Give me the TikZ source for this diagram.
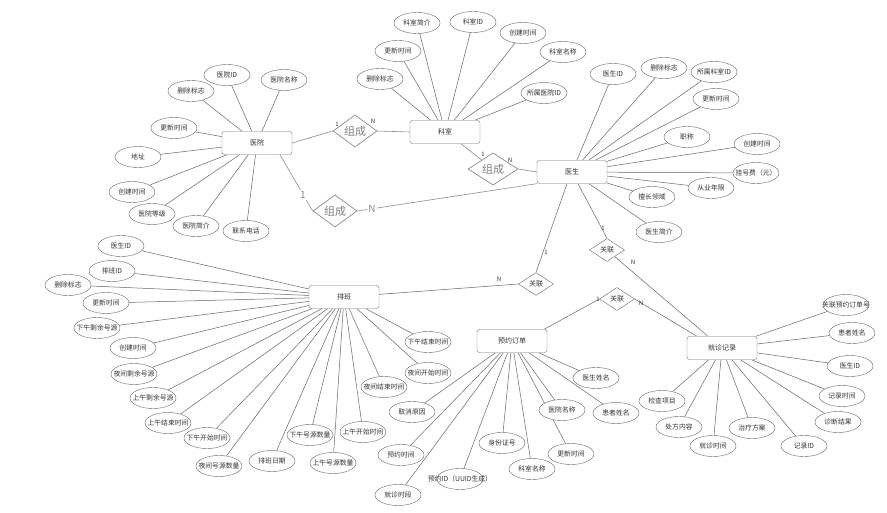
\documentclass[tikz,border=0pt]{standalone}
\usepackage{fontspec}
\setmainfont{Noto Sans CJK SC}
\usetikzlibrary{shapes.geometric}
\pgfdeclarelayer{bg}
\pgfsetlayers{bg,main}
\tikzset{
 ent/.style={draw=black!55, rounded corners=2.5pt, minimum width=70pt, minimum height=23pt, inner sep=0pt, font=\fontsize{7}{8}\selectfont, text=black!80, fill=white},
 attr/.style={ellipse, draw=black!60, fill=white, minimum width=46pt, minimum height=21pt, inner sep=0pt},
 every label/.style={font=\fontsize{6.8}{8}\selectfont, text=black!80, inner sep=0pt},
 zc/.style={diamond, draw=black!45, line width=0.7pt, fill=white, minimum width=44pt, minimum height=28pt, inner sep=0pt, font=\fontsize{11}{12}\selectfont, text=black!50},
 gl/.style={diamond, draw=black!60, fill=white, minimum width=35pt, minimum height=23pt, inner sep=0pt, font=\fontsize{7}{8}\selectfont, text=black!80},
 ln/.style={draw=black!60, line width=0.5pt},
 zl/.style={draw=black!45, line width=0.6pt},
 card/.style={font=\fontsize{6}{7}\selectfont, text=black!80, inner sep=0.5pt},
 bigcard/.style={font=\fontsize{10}{11}\selectfont, text=black!45, fill=white, inner sep=1pt},
}
\newcommand\myattr[3]{\node[attr,label={center:#3}] (#1) at (#2) {};}
\begin{document}
\begin{tikzpicture}[x=1pt,y=-1pt]
\useasboundingbox (0,0) rectangle (887,513);
% entities
\node[ent] (yy) at (257,143) {医院};
\node[ent] (ks) at (445,132) {科室};
\node[ent] (ys) at (572,172) {医生};
\node[ent] (pb) at (344,297) {排班};
\node[ent] (yd) at (512,341) {预约订单};
\node[ent] (jz) at (722,348) {就诊记录};
% relationships
\node[zc] (zc1) at (355,131) {组成};
\node[zc, minimum width=50pt] (zc2) at (493,169) {组成};
\node[zc] (zc3) at (335,211) {组成};
\node[gl] (gl1) at (536,284) {关联};
\node[gl] (gl2) at (607,250) {关联};
\node[gl] (gl3) at (617,299) {关联};
% hospital attributes
\myattr{h1}{227,75}{医院ID}
\myattr{h2}{284,80}{医院名称}
\myattr{h3}{191,91}{删除标志}
\myattr{h4}{174,128}{更新时间}
\myattr{h5}{138,157}{地址}
\myattr{h6}{132,192}{创建时间}
\myattr{h7}{152,214}{医院等级}
\myattr{h8}{196,226}{医院简介}
\myattr{h9}{246,231}{联系电话}
% department attributes
\myattr{k1}{417,23}{科室简介}
\myattr{k2}{473,22}{科室ID}
\myattr{k3}{523,33}{创建时间}
\myattr{k4}{563,52}{科室名称}
\myattr{k5}{398,51}{更新时间}
\myattr{k6}{380,79}{删除标志}
\myattr{k7}{544,93}{所属医院ID}
% doctor attributes
\myattr{d1}{613,74}{医生ID}
\myattr{d2}{664,68}{删除标志}
\myattr{d3}{714,72}{所属科室ID}
\myattr{d4}{716,99}{更新时间}
\myattr{d5}{687,137}{职称}
\myattr{d6}{757,144}{创建时间}
\myattr{d7}{756,173}{挂号费（元）}
\myattr{d8}{711,188}{从业年限}
\myattr{d9}{652,197}{擅长领域}
\myattr{d10}{659,232}{医生简介}
% schedule attributes
\myattr{p1}{121,246}{医生ID}
\myattr{p2}{112,271}{排班ID}
\myattr{p3}{68,285}{删除标志}
\myattr{p4}{106,303}{更新时间}
\myattr{p5}{97,328}{下午剩余号源}
\myattr{p6}{133,348}{创建时间}
\myattr{p7}{134,374}{夜间剩余号源}
\myattr{p8}{153,398}{上午剩余号源}
\myattr{p9}{168,423}{上午结束时间}
\myattr{p10}{207,438}{下午开始时间}
\myattr{p11}{219,466}{夜间号源数量}
\myattr{p12}{272,461}{排班日期}
\myattr{p13}{310,435}{下午号源数量}
\myattr{p14}{333,463}{上午号源数量}
\myattr{p15}{363,432}{上午开始时间}
\myattr{p16}{384,387}{夜间结束时间}
\myattr{p17}{428,373}{夜间开始时间}
\myattr{p18}{428,342}{下午结束时间}
% order attributes
\myattr{o1}{596,378}{医生姓名}
\myattr{o2}{562,410}{医院名称}
\myattr{o3}{616,413}{患者姓名}
\myattr{o4}{571,454}{更新时间}
\myattr{o5}{532,469}{科室名称}
\myattr{o6}{502,443}{身份证号}
\myattr{o7}{460,479}{预约ID（UUID生成）}
\myattr{o8}{401,455}{预约时间}
\myattr{o9}{398,495}{就诊时段}
\myattr{o10}{412,412}{取消原因}
% record attributes
\myattr{j1}{846,305}{关联预约订单号}
\myattr{j2}{852,333}{患者姓名}
\myattr{j3}{850,366}{医生ID}
\myattr{j4}{842,396}{记录时间}
\myattr{j5}{838,422}{诊断结果}
\myattr{j6}{804,446}{记录ID}
\myattr{j7}{752,428}{治疗方案}
\myattr{j8}{713,446}{就诊时间}
\myattr{j9}{679,427}{处方内容}
\myattr{j10}{662,401}{检查项目}
\begin{pgfonlayer}{bg}
\fill[white] (0,0) rectangle (887,513);
\foreach \a in {h1,h2,h3,h4,h5,h6,h7,h8,h9} \draw[ln] (\a) -- (yy);
\foreach \a in {k1,k2,k3,k4,k5,k6,k7} \draw[ln] (\a) -- (ks);
\foreach \a in {d1,d2,d3,d4,d5,d6,d7,d8,d9,d10} \draw[ln] (\a) -- (ys);
\foreach \a in {p1,p2,p3,p4,p5,p6,p7,p8,p9,p10,p11,p12,p13,p14,p15,p16,p17,p18} \draw[ln] (\a) -- (pb);
\foreach \a in {o1,o2,o3,o4,o5,o6,o7,o8,o9,o10} \draw[ln] (\a) -- (yd);
\foreach \a in {j1,j2,j3,j4,j5,j6,j7,j8,j9,j10} \draw[ln] (\a) -- (jz);
% relationships
\draw[zl] (yy.east) -- (zc1.west);
\draw[zl] (zc1.east) -- (ks.west);
\draw[zl] ([xshift=16pt]ks.south) -- (zc2);
\draw[zl] (zc2.east) -- (ys.west);
\draw[zl] ([xshift=23pt]yy.south) -- (zc3.west);
\draw[zl] (ys.south west) -- (zc3.east);
\draw[ln] ([xshift=-5pt]ys.south) -- (gl1.north);
\draw[ln] (gl1.west) -- (pb);
\draw[ln] ([xshift=6pt]ys.south) -- (gl2.north);
\draw[ln] (gl2) -- ([xshift=-14pt]jz.north);
\draw[ln] ([xshift=-3pt]yd.north east) -- (gl3.west);
\draw[ln] (gl3.east) -- ([xshift=-25pt]jz.north);
\end{pgfonlayer}
% cardinalities
\node[card] (c1) at (337,124) {1};
\node[card] (c2) at (373,121) {N};
\node[card] (c3) at (483,154) {1};
\node[card] (c4) at (510,160) {N};
\node[bigcard] (c5) at (303,195) {1};
\node[bigcard] (c6) at (372,209) {N};
\node[card] (c7) at (546,252) {1};
\node[card] (c8) at (499,279) {N};
\node[card] (c9) at (603,228) {1};
\node[card] (c10) at (633,262) {N};
\node[card] (c11) at (598,299) {1};
\node[card] (c12) at (641,303) {N};
\end{tikzpicture}
\end{document}
